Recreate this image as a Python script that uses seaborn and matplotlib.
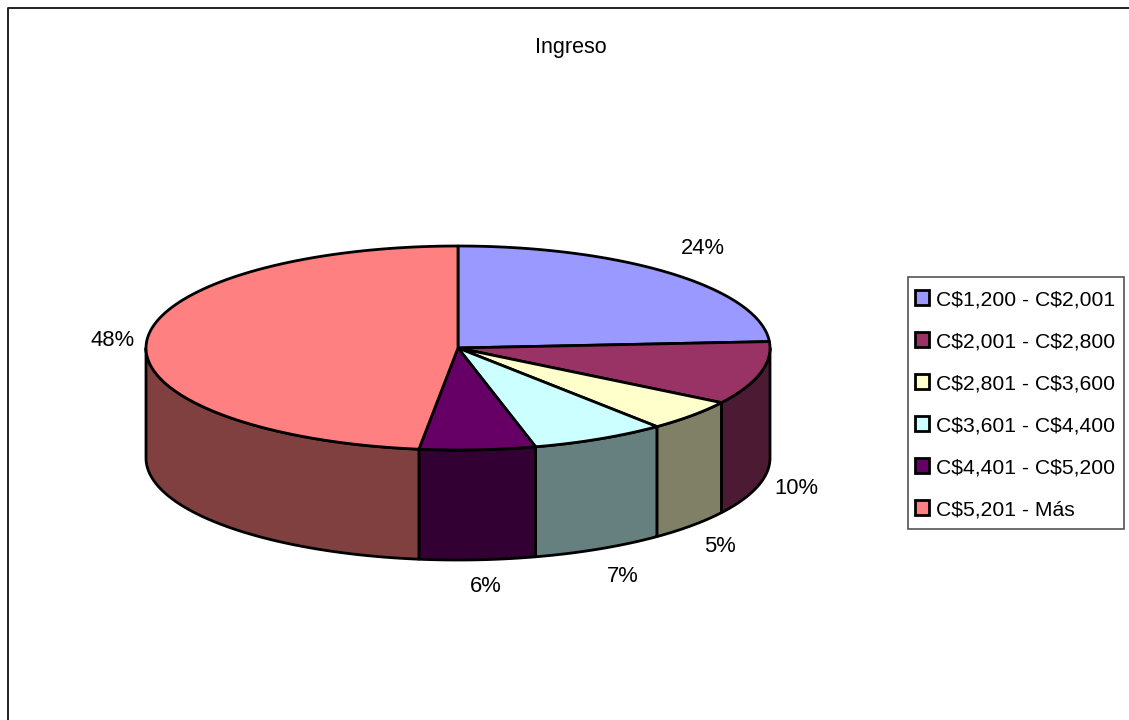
import numpy as np
import matplotlib
matplotlib.use('Agg')
import matplotlib.pyplot as plt
from matplotlib.patches import Patch, Polygon, Rectangle
import seaborn as sns

# data
title = 'Ingreso'
categories = ['C$1,200 - C$2,001', 'C$2,001 - C$2,800', 'C$2,801 - C$3,600',
              'C$3,601 - C$4,400', 'C$4,401 - C$5,200', 'C$5,201 - Más']
shares = [24, 10, 5, 7, 6, 48]
hex_colors = ['#9999FF', '#993366', '#FFFFCC', '#CCFFFF', '#660066', '#FF8080']

# layout, in pixels of the 1129x720 picture
cx, cy = 458, 348
rx, ry = 312, 102
depth = 110
label_xy = [(703, 249), (796, 489), (720, 547), (623, 576), (486, 587), (113, 341)]

sns.set_theme(style='white')
plt.rcParams['font.family'] = ['Liberation Sans', 'DejaVu Sans']

colors = sns.color_palette(hex_colors)
side_colors = [tuple(c * 0.5 for c in col) for col in colors]

fig = plt.figure(figsize=(11.29, 7.2), dpi=100)
ax = fig.add_axes([0, 0, 1, 1])
ax.set_xlim(0, 1129)
ax.set_ylim(720, 0)
ax.axis('off')


def arc(t0, t1, dy=0):
    t = np.radians(np.linspace(t0, t1, 200))
    return np.column_stack([cx + rx * np.cos(t), cy - ry * np.sin(t) + dy])


# slice edges, clockwise from the top
edges = 90 - 3.6 * np.cumsum([0] + shares)

# side walls, only the front half of the ellipse shows
for i in range(len(shares)):
    t0 = min(edges[i], 0)
    t1 = max(edges[i + 1], -180)
    if t0 <= t1:
        continue
    pts = np.vstack([arc(t0, t1), arc(t1, t0, depth)])
    ax.add_patch(Polygon(pts, closed=True, facecolor=side_colors[i],
                         edgecolor='black', linewidth=2, joinstyle='round'))

# top faces
for i in range(len(shares)):
    pts = np.vstack([[(cx, cy)], arc(edges[i], edges[i + 1])])
    ax.add_patch(Polygon(pts, closed=True, facecolor=colors[i],
                         edgecolor='black', linewidth=2, joinstyle='round'))

for share, (x, y) in zip(shares, label_xy):
    ax.text(x, y, f'{share}%', fontsize=15.8, color='black', ha='center', va='center')

ax.text(571, 47, title, fontsize=15.5, color='black', ha='center', va='center')

# outer frame, open on the right and at the bottom
ax.plot([7.5, 7.5, 1129], [720, 7.5, 7.5], color='#222222', linewidth=1.4, clip_on=False)

# legend box drawn apart so the padding can differ across and down
ax.add_patch(Rectangle((908, 277), 216, 252, facecolor='white', edgecolor='#555555', linewidth=1.2))
handles = [Patch(facecolor=c, edgecolor='black', linewidth=2) for c in colors]
leg = ax.legend(handles, [c.replace('$', r'\$') for c in categories], loc='upper left',
                bbox_to_anchor=(915, 290), bbox_transform=ax.transData, fontsize=15.2,
                frameon=False, labelcolor='black', borderaxespad=0, borderpad=0,
                labelspacing=1.09, handlelength=0.68, handleheight=0.68, handletextpad=0.3)

fig.savefig('out.png', dpi=100)
